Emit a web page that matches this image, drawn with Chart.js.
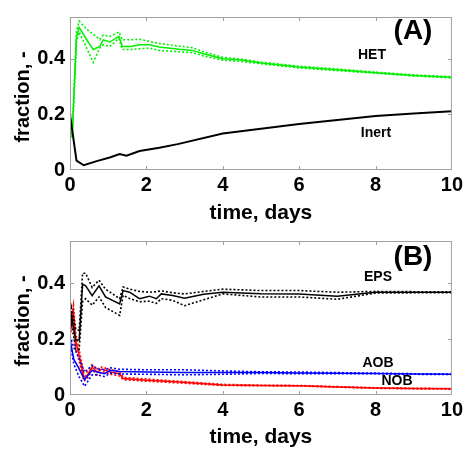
<!DOCTYPE html>
<html>
<head>
<meta charset="utf-8">
<title>fractions</title>
<script src="https://cdn.jsdelivr.net/npm/chart.js@4.4.0/dist/chart.umd.min.js"></script>
<style>
    body { margin: 0; background: #fff; }
    .panel { position: relative; width: 466px; }
</style>
</head>
<body>
<div class="panel" style="height:224px"><canvas id="chartA"></canvas></div>
<div class="panel" style="height:225px"><canvas id="chartB"></canvas></div>
<script>
// axis ticks
const xTicks = [0, 2, 4, 6, 8, 10];
const yTicks = [0, 0.2, 0.4];

// panel A: HET (mean, upper, lower) and Inert
const hetTime = [0, 0.06, 0.17, 0.24, 0.43, 0.61, 0.78, 0.87, 1.04, 1.28, 1.37, 1.6, 1.82, 2.08, 2.34, 2.86, 3.2, 3.5, 4, 4.5, 5, 6, 7, 8, 9, 10];
const hetMid  = [0.12, 0.131, 0.48, 0.513, 0.47, 0.433, 0.444, 0.468, 0.46, 0.48, 0.444, 0.444, 0.45, 0.45, 0.442, 0.434, 0.43, 0.418, 0.40, 0.395, 0.385, 0.37, 0.36, 0.35, 0.34, 0.333];
const hetHigh = [0.12, 0.14, 0.50, 0.535, 0.507, 0.488, 0.469, 0.485, 0.48, 0.496, 0.468, 0.468, 0.47, 0.462, 0.455, 0.445, 0.44, 0.425, 0.405, 0.398, 0.388, 0.373, 0.363, 0.352, 0.342, 0.335];
const hetLow  = [0.12, 0.12, 0.46, 0.496, 0.44, 0.387, 0.439, 0.45, 0.444, 0.473, 0.433, 0.433, 0.436, 0.438, 0.43, 0.425, 0.422, 0.41, 0.395, 0.39, 0.382, 0.367, 0.357, 0.348, 0.338, 0.331];

const inertTime = [0, 0.17, 0.36, 0.7, 1.04, 1.3, 1.48, 1.82, 2.34, 2.82, 4, 5, 6, 7, 8, 9, 10];
const inertMid  = [0.2, 0.034, 0.017, 0.032, 0.045, 0.057, 0.051, 0.068, 0.08, 0.093, 0.131, 0.148, 0.165, 0.18, 0.194, 0.203, 0.211];

// panel B: EPS, AOB, NOB (mean, upper, lower)
const epsTime = [0, 0.04, 0.15, 0.24, 0.33, 0.41, 0.58, 0.76, 0.93, 1.3, 1.39, 1.56, 1.82, 2.08, 2.26, 2.39, 2.69, 3.0, 3.5, 4, 5, 6, 7, 8, 9, 10];
const epsMid  = [0.236, 0.281, 0.196, 0.196, 0.396, 0.39, 0.355, 0.39, 0.35, 0.325, 0.373, 0.367, 0.344, 0.353, 0.344, 0.361, 0.355, 0.346, 0.36, 0.367, 0.362, 0.361, 0.353, 0.367, 0.367, 0.367];
const epsHigh = [0.236, 0.31, 0.236, 0.23, 0.435, 0.435, 0.384, 0.41, 0.378, 0.344, 0.386, 0.378, 0.37, 0.367, 0.369, 0.372, 0.365, 0.361, 0.37, 0.378, 0.373, 0.373, 0.367, 0.37, 0.369, 0.369];
const epsLow  = [0.236, 0.258, 0.162, 0.162, 0.333, 0.344, 0.321, 0.35, 0.313, 0.284, 0.356, 0.345, 0.333, 0.335, 0.327, 0.344, 0.338, 0.319, 0.34, 0.361, 0.35, 0.35, 0.342, 0.364, 0.365, 0.365];

const aobTime = [0, 0.1, 0.24, 0.38, 0.58, 0.71, 0.9, 1.06, 1.3, 2, 3, 4, 5, 6, 7, 8, 9, 10];
const aobMid  = [0.2, 0.127, 0.093, 0.055, 0.088, 0.082, 0.076, 0.088, 0.084, 0.082, 0.08, 0.08, 0.08, 0.079, 0.078, 0.077, 0.075, 0.074];
const aobHigh = [0.21, 0.17, 0.13, 0.082, 0.105, 0.093, 0.09, 0.097, 0.092, 0.09, 0.09, 0.086, 0.083, 0.082, 0.08, 0.078, 0.076, 0.075];
const aobLow  = [0.19, 0.11, 0.065, 0.031, 0.072, 0.072, 0.066, 0.078, 0.075, 0.074, 0.072, 0.074, 0.077, 0.076, 0.076, 0.076, 0.074, 0.073];

const nobTime = [0, 0.09, 0.15, 0.24, 0.36, 0.45, 0.58, 0.71, 0.84, 1.06, 1.3, 1.39, 1.91, 2.86, 4, 5, 6, 7, 8, 9, 10];
const nobMid  = [0.22, 0.298, 0.196, 0.14, 0.065, 0.07, 0.099, 0.082, 0.093, 0.082, 0.076, 0.059, 0.054, 0.046, 0.036, 0.034, 0.033, 0.029, 0.025, 0.023, 0.022];
const nobHigh = [0.23, 0.32, 0.22, 0.16, 0.08, 0.083, 0.108, 0.093, 0.1, 0.09, 0.084, 0.063, 0.058, 0.049, 0.038, 0.035, 0.034, 0.03, 0.026, 0.024, 0.023];
const nobLow  = [0.21, 0.27, 0.17, 0.12, 0.05, 0.058, 0.09, 0.072, 0.084, 0.074, 0.068, 0.055, 0.05, 0.043, 0.034, 0.033, 0.032, 0.028, 0.024, 0.022, 0.021];

const FONT = '"Liberation Sans", Arial, sans-serif';

function pts(times, values) {
    return times.map((t, i) => ({ x: t, y: values[i] }));
}

function line(times, values, color, dotted, width) {
    return {
        data: pts(times, values),
        borderColor: color,
        borderWidth: width || (dotted ? 1.6 : 1.5),
        borderDash: dotted ? [2, 2] : [],
        pointRadius: 0,
        tension: 0,
        fill: false
    };
}

// box round the plot, inward ticks, axis titles and the text labels
const framePlugin = {
    id: 'frame',
    afterDraw(chart, args, opts) {
        const { ctx, chartArea: a, scales: { x, y } } = chart;
        ctx.save();
        ctx.strokeStyle = '#a0a0a0';
        ctx.lineWidth = 1;
        ctx.strokeRect(a.left + 0.5, a.top + 0.5, a.width - 1, a.height - 1);
        ctx.beginPath();
        xTicks.slice(1, -1).forEach(v => {
            const px = Math.round(x.getPixelForValue(v)) + 0.5;
            ctx.moveTo(px, a.top); ctx.lineTo(px, a.top + 4);
            ctx.moveTo(px, a.bottom); ctx.lineTo(px, a.bottom - 4);
        });
        yTicks.slice(1).forEach(v => {
            const py = Math.round(y.getPixelForValue(v)) + 0.5;
            ctx.moveTo(a.left, py); ctx.lineTo(a.left + 4, py);
            ctx.moveTo(a.right, py); ctx.lineTo(a.right - 4, py);
        });
        ctx.stroke();

        ctx.fillStyle = '#000';
        ctx.textAlign = 'center';
        ctx.textBaseline = 'middle';
        ctx.font = `bold 21px ${FONT}`;
        ctx.fillText('time, days', (a.left + a.right) / 2, 213);
        opts.labels.forEach(l => {
            ctx.font = `bold ${l.size}px ${FONT}`;
            ctx.fillText(l.text, l.x, l.y);
        });
        ctx.translate(23, 97);
        ctx.rotate(-Math.PI / 2);
        ctx.font = `bold 20px ${FONT}`;
        ctx.fillText('fraction, -', 0, 0);
        ctx.restore();
    }
};

function makeChart(id, datasets, labels) {
    const ctx = document.getElementById(id).getContext('2d');
    return new Chart(ctx, {
        type: 'line',
        data: { datasets: datasets },
        options: {
            responsive: true,
            maintainAspectRatio: false,
            animation: false,
            layout: { padding: { top: 8, right: 12, left: 0, bottom: 0 } },
            plugins: {
                legend: { display: false },
                tooltip: { enabled: false },
                frame: { labels: labels }
            },
            scales: {
                x: {
                    type: 'linear',
                    min: 0,
                    max: 10,
                    afterBuildTicks: s => { s.ticks = xTicks.map(v => ({ value: v })); },
                    afterFit: s => { s.height = 54; },
                    grid: { display: false, drawTicks: false },
                    border: { display: false },
                    ticks: { color: '#000', padding: 3, font: { family: FONT, size: 20, weight: 'bold' } }
                },
                y: {
                    min: 0,
                    max: 0.55,
                    afterBuildTicks: s => { s.ticks = yTicks.map(v => ({ value: v })); },
                    afterFit: s => { s.width = 70; },
                    grid: { display: false, drawTicks: false },
                    border: { display: false },
                    ticks: { color: '#000', padding: 5, font: { family: FONT, size: 20, weight: 'bold' } }
                }
            }
        },
        plugins: [framePlugin]
    });
}

const GREEN = '#00f000';
const BLUE = '#0000ff';
const RED = '#ff0000';
const BLACK = '#000000';

makeChart('chartA', [
    line(inertTime, inertMid, BLACK, false, 2),
    line(hetTime, hetHigh, GREEN, true),
    line(hetTime, hetLow, GREEN, true),
    line(hetTime, hetMid, GREEN, false)
], [
    { text: '(A)', x: 413, y: 31, size: 28 },
    { text: 'HET', x: 372, y: 55, size: 14 },
    { text: 'Inert', x: 376, y: 133, size: 14 }
]);

makeChart('chartB', [
    line(epsTime, epsHigh, BLACK, true),
    line(epsTime, epsLow, BLACK, true),
    line(epsTime, epsMid, BLACK, false),
    line(aobTime, aobHigh, BLUE, true),
    line(aobTime, aobLow, BLUE, true),
    line(aobTime, aobMid, BLUE, false),
    line(nobTime, nobHigh, RED, true),
    line(nobTime, nobLow, RED, true),
    line(nobTime, nobMid, RED, false)
], [
    { text: '(B)', x: 413, y: 33, size: 28 },
    { text: 'EPS', x: 378, y: 53, size: 14 },
    { text: 'AOB', x: 378, y: 139, size: 14 },
    { text: 'NOB', x: 397, y: 157, size: 14 }
]);
</script>
</body>
</html>
